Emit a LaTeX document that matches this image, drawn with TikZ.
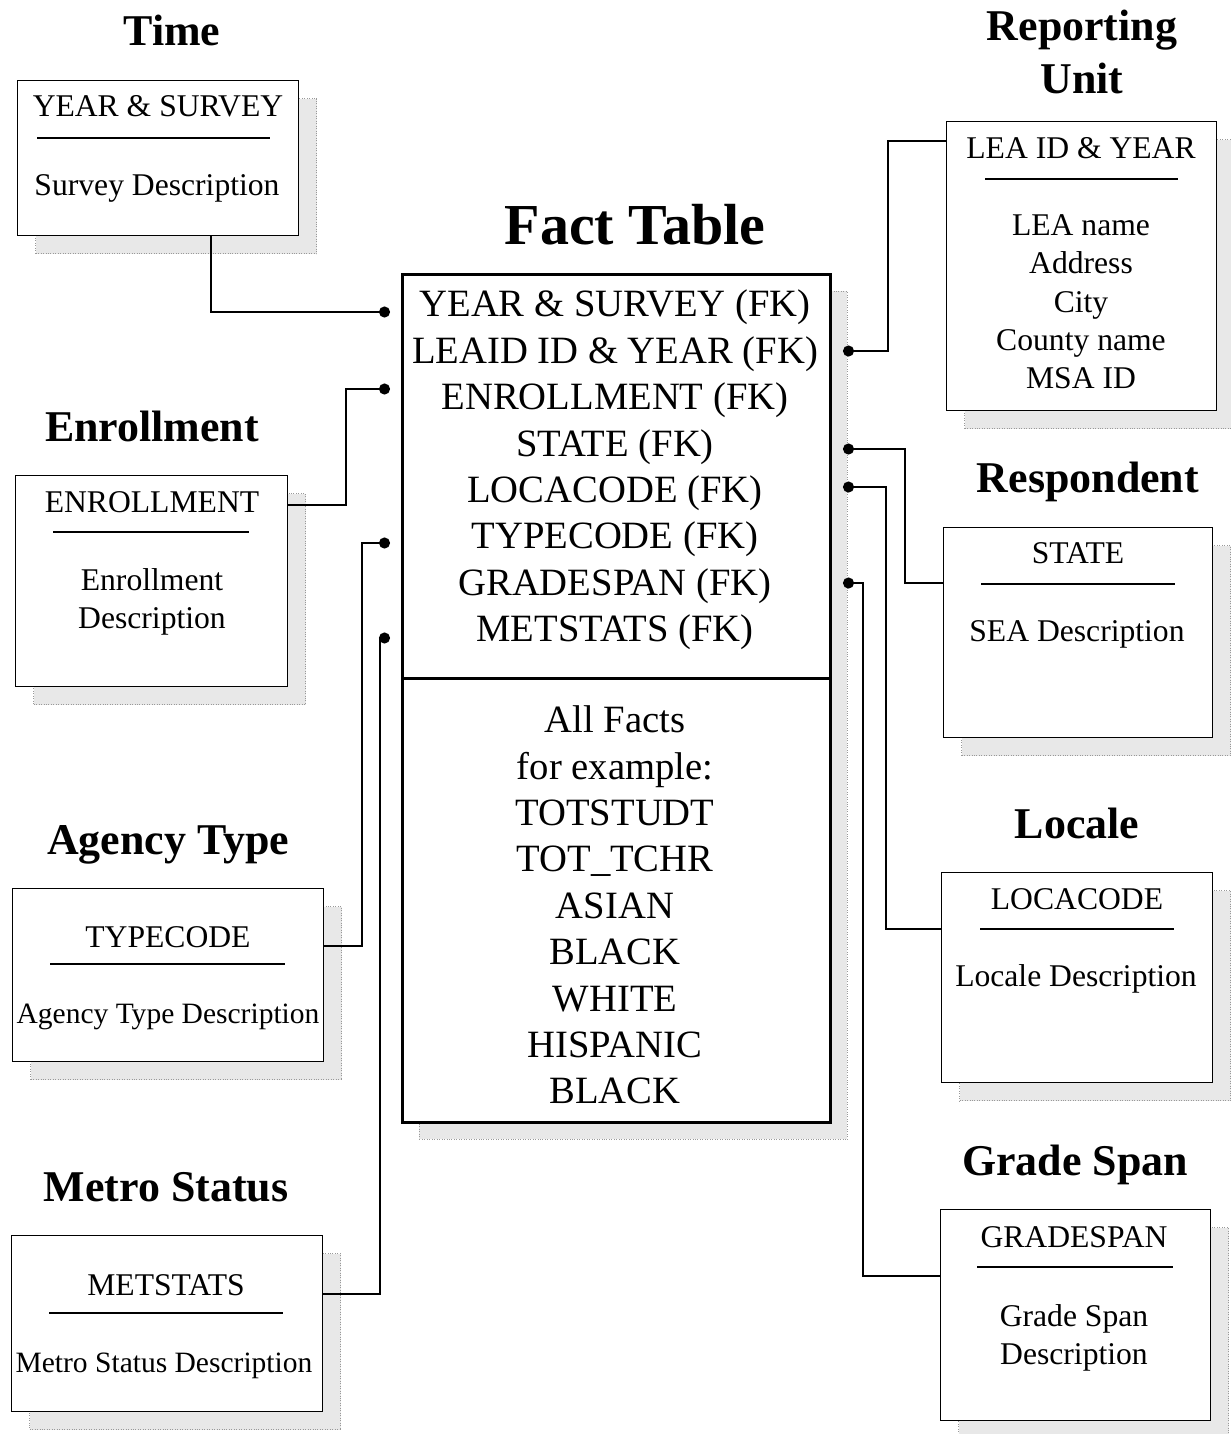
\documentclass[tikz,border=0pt]{standalone}
\usepackage{fontspec}
\setmainfont{Liberation Serif}
\usetikzlibrary{arrows.meta,shadows}

\begin{document}
\begin{tikzpicture}[x=0.02cm, y=-0.02cm,
    title/.style={font=\fontsize{25}{30}\selectfont\bfseries, anchor=base, align=center},
    dimbox/.style={rectangle, draw, line width=0.8pt, fill=white, anchor=north west, inner sep=0pt,
        drop shadow={shadow xshift=0.36cm, shadow yshift=-0.36cm, fill=gray!18, draw=gray!80, line width=0.4pt, densely dotted, opacity=1}},
    factbox/.style={rectangle, draw, line width=1.7pt, fill=white, anchor=north west, inner sep=0pt,
        drop shadow={shadow xshift=0.34cm, shadow yshift=-0.34cm, fill=gray!18, draw=gray!80, line width=0.4pt, densely dotted, opacity=1}},
    keytext/.style={font=\fontsize{18}{21.8}\selectfont, anchor=base},
    longtext/.style={font=\fontsize{16.8}{21.8}\selectfont, anchor=base},
    desc/.style={font=\fontsize{18}{21.8}\selectfont, align=center},
    facttext/.style={font=\fontsize{22}{26.4}\selectfont, align=center},
    keyrule/.style={line width=1.1pt},
    fk/.style={line width=1.1pt, -{Circle[length=0.22cm]}}
]
    \useasboundingbox (0,0) rectangle (1231,1434);

    \node[title] (ttime) at (172,45) {Time};
    \node[dimbox, minimum width=5.62cm, minimum height=3.1cm] (timebox) at (17,80) {};
    \node[keytext] (timekey) at (158,116.5) {YEAR \& SURVEY};
    \draw[keyrule] (37,138) -- (270,138);
    \node[keytext] (timedesc) at (157,195.5) {Survey Description};

    \node[title] (tenroll) at (152,441) {Enrollment};
    \node[dimbox, minimum width=5.44cm, minimum height=4.22cm] (enrollbox) at (15,475) {};
    \node[keytext] (enrollkey) at (152,512.5) {ENROLLMENT};
    \draw[keyrule] (53,532) -- (249,532);
    \node[desc] (enrolldesc) at (152,602) {Enrollment\\Description};

    \node[title] (tagency) at (168,854) {Agency Type};
    \node[dimbox, minimum width=6.22cm, minimum height=3.46cm] (typebox) at (12,888) {};
    \node[keytext] (typekey) at (168,947.5) {TYPECODE};
    \draw[keyrule] (50,964) -- (285,964);
    \node[longtext] (typedesc) at (168,1023.5) {Agency Type Description};

    \node[title] (tmetro) at (166,1201) {Metro Status};
    \node[dimbox, minimum width=6.22cm, minimum height=3.52cm] (metrobox) at (11,1235) {};
    \node[keytext] (metrokey) at (166,1295.5) {METSTATS};
    \draw[keyrule] (49,1313) -- (283,1313);
    \node[longtext] (metrodesc) at (164,1372.5) {Metro Status Description};

    \node[title, anchor=center] (tlea) at (1082,52) {Reporting\\Unit};
    \node[dimbox, minimum width=5.4cm, minimum height=5.78cm] (leabox) at (946,121) {};
    \node[keytext] (leakey) at (1081,158.5) {LEA ID \& YEAR};
    \draw[keyrule] (985,179) -- (1178,179);
    \node[desc] (leadesc) at (1081,302) {LEA name\\Address\\City\\County name\\MSA ID};

    \node[title] (tstate) at (1088,492) {Respondent};
    \node[dimbox, minimum width=5.38cm, minimum height=4.2cm] (statebox) at (943,527) {};
    \node[keytext] (statekey) at (1078,563.5) {STATE};
    \draw[keyrule] (981,584) -- (1175,584);
    \node[keytext] (statedesc) at (1077,641.5) {SEA Description};

    \node[title] (tlocale) at (1077,838) {Locale};
    \node[dimbox, minimum width=5.42cm, minimum height=4.2cm] (localebox) at (941,872) {};
    \node[keytext] (localekey) at (1077,909.5) {LOCACODE};
    \draw[keyrule] (980,929) -- (1174,929);
    \node[keytext] (localedesc) at (1076,986.5) {Locale Description};

    \node[title] (tgrade) at (1075,1175) {Grade Span};
    \node[dimbox, minimum width=5.4cm, minimum height=4.22cm] (gradebox) at (940,1209) {};
    \node[keytext] (gradekey) at (1074,1247.5) {GRADESPAN};
    \draw[keyrule] (977,1267) -- (1173,1267);
    \node[desc] (gradedesc) at (1074,1338) {Grade Span\\Description};

    \node[title, font=\fontsize{33}{40}\selectfont\bfseries] (tfact) at (635,244) {Fact Table};
    \node[factbox, minimum width=8.56cm, minimum height=16.96cm] (fact) at (401,273) {};
    \draw[line width=1.7pt] (fact.west |- 0,678) -- (fact.east |- 0,678);
    \node[facttext] (fkeys) at (615,470) {YEAR \& SURVEY (FK)\\LEAID ID \& YEAR (FK)\\ENROLLMENT (FK)\\STATE (FK)\\LOCACODE (FK)\\TYPECODE (FK)\\GRADESPAN (FK)\\METSTATS (FK)};
    \node[facttext] (facts) at (615,905) {All Facts\\for example:\\TOTSTUDT\\TOT\_TCHR\\ASIAN\\BLACK\\WHITE\\HISPANIC\\BLACK};

    \coordinate (dtime) at (390,312);
    \coordinate (denroll) at (390,389);
    \coordinate (dtype) at (390,543);
    \coordinate (dmetro) at (390,638);
    \coordinate (dlea) at (843,351);
    \coordinate (dstate) at (843,449);
    \coordinate (dlocale) at (843,487);
    \coordinate (dgrade) at (843,583);

    \draw[fk] ([xshift=1.05cm]timebox.south) |- (dtime);
    \draw[fk] ([yshift=1.53cm]enrollbox.east) -| ([xshift=-0.88cm]denroll) -- (denroll);
    \draw[fk] ([yshift=0.59cm]typebox.east) -| ([xshift=-0.56cm]dtype) -- (dtype);
    \draw[fk] ([yshift=0.6cm]metrobox.east) -| ([xshift=-0.2cm]dmetro) -- (dmetro);
    \draw[fk] ([yshift=2.51cm]leabox.west) -| ([xshift=0.9cm]dlea) -- (dlea);
    \draw[fk] ([yshift=1cm]statebox.west) -| ([xshift=1.24cm]dstate) -- (dstate);
    \draw[fk] ([yshift=0.98cm]localebox.west) -| ([xshift=0.86cm]dlocale) -- (dlocale);
    \draw[fk] ([yshift=0.79cm]gradebox.west) -| ([xshift=0.4cm]dgrade) -- (dgrade);
\end{tikzpicture}
\end{document}
